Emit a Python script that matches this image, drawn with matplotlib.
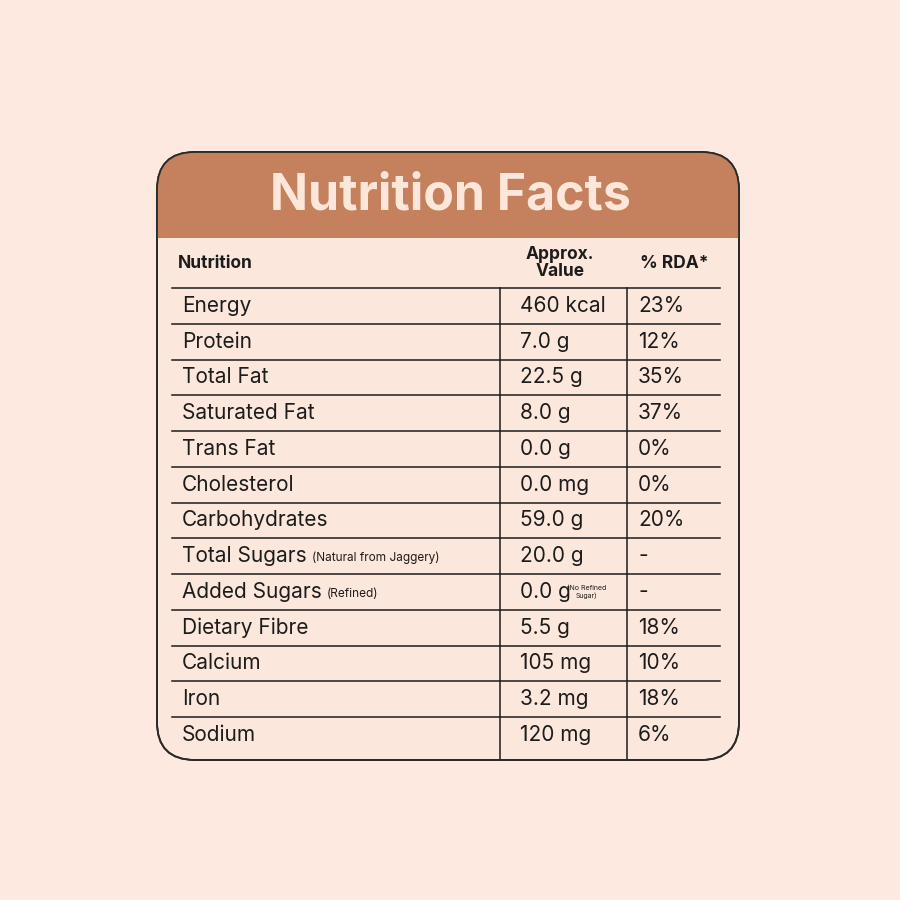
import matplotlib.pyplot as plt
from matplotlib.patches import FancyBboxPatch, Rectangle

plt.rcParams['font.family'] = ['Inter', 'DejaVu Sans']

# table data
nutrients = ['Energy', 'Protein', 'Total Fat', 'Saturated Fat', 'Trans Fat', 'Cholesterol',
             'Carbohydrates', 'Total Sugars', 'Added Sugars', 'Dietary Fibre', 'Calcium',
             'Iron', 'Sodium']
notes = ['', '', '', '', '', '', '', '(Natural from Jaggery)', '(Refined)', '', '', '', '']
values = ['460 kcal', '7.0 g', '22.5 g', '8.0 g', '0.0 g', '0.0 mg', '59.0 g', '20.0 g',
          '0.0 g', '5.5 g', '105 mg', '3.2 mg', '120 mg']
rda = ['23%', '12%', '35%', '37%', '0%', '0%', '20%', '-', '-', '18%', '10%', '18%', '6%']

bg = '#fde9df'
brown = '#c5805d'
ink = '#1c1c1c'

fig = plt.figure(figsize=(9, 9), dpi=100)
fig.patch.set_facecolor(bg)
ax = fig.add_axes([0, 0, 1, 1])
ax.set_xlim(0, 900)
ax.set_ylim(900, 0)
ax.axis('off')

# card
card = FancyBboxPatch((157, 152), 582, 608, boxstyle='round,pad=0,rounding_size=38',
                      fc='#fce7dd', ec='#2a2a2a', lw=1.3, zorder=1)
ax.add_patch(card)
head = FancyBboxPatch((157, 152), 582, 86, boxstyle='round,pad=0,rounding_size=38',
                      fc=brown, ec='none', zorder=2)
ax.add_patch(head)
ax.add_patch(Rectangle((157, 200), 582, 38, fc=brown, ec='none', zorder=2))
# re-draw outline on top
ax.add_patch(FancyBboxPatch((157, 152), 582, 608, boxstyle='round,pad=0,rounding_size=38',
                            fc='none', ec='#2a2a2a', lw=1.3, zorder=3))
ax.text(450, 196, 'Nutrition Facts', ha='center', va='center', fontsize=36,
        fontweight='bold', color='#fde6da', zorder=4)

# column headers
ax.text(178, 264, 'Nutrition', ha='left', va='center', fontsize=12.5, fontweight='bold', color=ink)
ax.text(560, 263, 'Approx.\nValue', ha='center', va='center', fontsize=12.5, fontweight='bold',
        color=ink, linespacing=0.95)
ax.text(640, 264, '% RDA*', ha='left', va='center', fontsize=12.5, fontweight='bold', color=ink)

top = 288
step = 35.75
ax.plot([172, 720], [top, top], color=ink, lw=1.1)
bottom = 760
ax.plot([500, 500], [top, bottom], color=ink, lw=1.1)
ax.plot([627, 627], [top, bottom], color=ink, lw=1.1)

for i, name in enumerate(nutrients):
    yc = top + step * (i + 0.5)
    if i < len(nutrients) - 1:
        yl = top + step * (i + 1)
        ax.plot([172, 720], [yl, yl], color=ink, lw=1.1)
    t = ax.text(182, yc, name, ha='left', va='center', fontsize=15, color=ink)
    if notes[i]:
        fig.canvas.draw()
        bb = t.get_window_extent()
        ax.text(bb.x1 + 5, yc + 2, notes[i], ha='left', va='center', fontsize=8.5, color=ink)
    vt = ax.text(520, yc, values[i], ha='left', va='center', fontsize=15, color=ink)
    if name == 'Added Sugars':
        fig.canvas.draw()
        bb = vt.get_window_extent()
        ax.text(bb.x1 + 16, yc, '(No Refined\nSugar)', ha='center', va='center', fontsize=5,
                color=ink, linespacing=1.3)
    ax.text(638, yc, rda[i], ha='left', va='center', fontsize=15, color=ink)

fig.savefig('out.png', dpi=100, facecolor=bg)
